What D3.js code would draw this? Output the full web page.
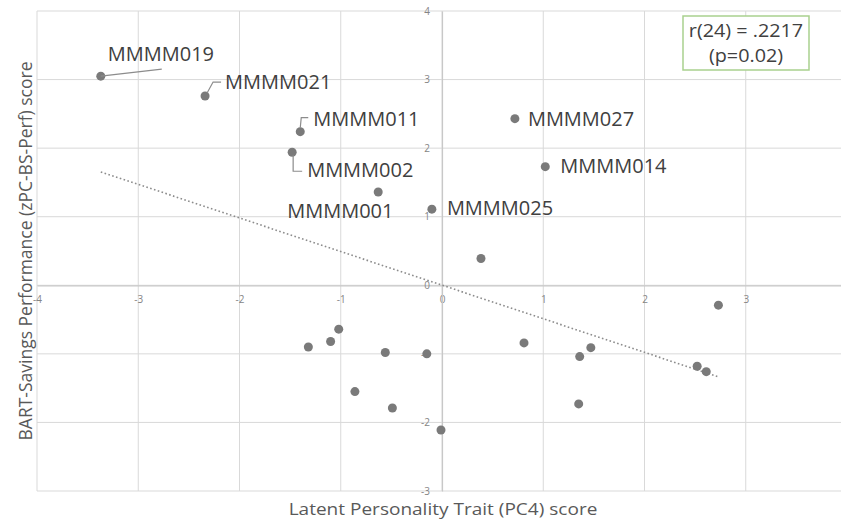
<!DOCTYPE html>
<html>
<head>
<meta charset="utf-8">
<script src="https://cdn.jsdelivr.net/npm/d3@7"></script>
<style>
  body { margin: 0; background: #fff; }
  text { font-family: "Open Sans", sans-serif; }
</style>
</head>
<body>
<svg></svg>
<script>
const width = 841;
const height = 519;

// participant scores (PC4 on x, zPC-BS-Perf on y)
const xs = [-3.37, -2.34, -1.40, -1.48, -0.63, -0.10, 0.72, 1.02, 0.385,
            -1.32, -1.10, -1.02, -0.56, -0.86, -0.49, -0.15, -0.01,
            0.81, 1.36, 1.47, 1.35, 2.52, 2.61, 2.73];
const ys = [3.05, 2.76, 2.24, 1.94, 1.36, 1.11, 2.43, 1.73, 0.39,
            -0.90, -0.82, -0.64, -0.98, -1.55, -1.79, -1.00, -2.11,
            -0.84, -1.04, -0.91, -1.73, -1.18, -1.26, -0.29];
const ids = ['MMMM019', 'MMMM021', 'MMMM011', 'MMMM002', 'MMMM001', 'MMMM025',
             'MMMM027', 'MMMM014'];
const xTicks = [-4, -3, -2, -1, 0, 1, 2, 3];
const yTicks = [4, 3, 2, 1, 0, -1, -2, -3];
const statLines = ['r(24) = .2217', '(p=0.02)'];

const svg = d3.select('svg')
  .attr('width', width)
  .attr('height', height);

const x = d3.scaleLinear().domain([-4, 4]).range([37, 847]);
const y = d3.scaleLinear().domain([-3, 4]).range([491, 11]);

const points = xs.map((v, i) => ({x: v, y: ys[i], id: ids[i]}));

/* grid */
svg.append('g')
  .selectAll('line')
  .data(xTicks.concat([4]))
  .enter()
  .append('line')
    .attr('x1', d => x(d)).attr('x2', d => x(d))
    .attr('y1', y(4)).attr('y2', y(-3))
    .style('stroke', '#d9d9d9')
    .style('stroke-width', 1);

svg.append('g')
  .selectAll('line')
  .data(yTicks)
  .enter()
  .append('line')
    .attr('x1', x(-4)).attr('x2', x(4))
    .attr('y1', d => y(d)).attr('y2', d => y(d))
    .style('stroke', '#d9d9d9')
    .style('stroke-width', 1);

// axes through the origin, plain hyphen for negatives
const fmt = d => String(d);
const xAxis = svg.append('g')
  .attr('transform', `translate(0,${y(0)})`)
  .call(d3.axisBottom(x).tickValues(xTicks).tickFormat(fmt).tickSize(0).tickPadding(12));
const yAxis = svg.append('g')
  .attr('transform', `translate(${x(0)},0)`)
  .call(d3.axisLeft(y).tickValues(yTicks).tickFormat(fmt).tickSize(0).tickPadding(12));

[xAxis, yAxis].forEach(g => {
  g.select('.domain').style('stroke', '#c8c8c8').style('stroke-width', 1.2);
  g.selectAll('text')
    .style('font-family', '"Open Sans", sans-serif')
    .style('font-size', '10px')
    .style('fill', '#858585');
});
xAxis.selectAll('text').attr('dy', '0.55em');

/* trend line: least squares fit */
const mx = d3.mean(xs), my = d3.mean(ys);
const slope = d3.sum(xs, (v, i) => (v - mx) * (ys[i] - my)) /
              d3.sum(xs, v => (v - mx) * (v - mx));
const icpt = my - slope * mx;
const xr = d3.extent(xs);

svg.append('line')
  .attr('x1', x(xr[0])).attr('y1', y(icpt + slope * xr[0]))
  .attr('x2', x(xr[1])).attr('y2', y(icpt + slope * xr[1]))
  .style('stroke', '#8c8c8c')
  .style('stroke-width', 1.6)
  .style('stroke-dasharray', '1.6 2.4');

/* points */
svg.append('g')
  .selectAll('circle')
  .data(points)
  .enter()
  .append('circle')
    .attr('cx', d => x(d.x))
    .attr('cy', d => y(d.y))
    .attr('r', 4.5)
    .style('fill', '#7a7a7a');

/* labels: offset from the point, with optional leader path */
const labelPos = {
  MMMM019: {dx: 7, dy: -15, leader: [[0, 0], [61, -7]]},
  MMMM021: {dx: 20, dy: -7, leader: [[2, -3], [8, -14], [16, -14]]},
  MMMM011: {dx: 13, dy: -6, leader: [[0, -4], [1, -14], [8, -14]]},
  MMMM002: {dx: 15, dy: 25, leader: [[1, 3], [1, 19], [10, 19]]},
  MMMM001: {dx: -91, dy: 26},
  MMMM025: {dx: 15, dy: 6},
  MMMM027: {dx: 13, dy: 7},
  MMMM014: {dx: 15, dy: 6}
};

const labelled = points.filter(d => d.id);

svg.append('g')
  .selectAll('path')
  .data(labelled.filter(d => labelPos[d.id].leader))
  .enter()
  .append('path')
    .attr('d', d => d3.line()(labelPos[d.id].leader.map(p => [x(d.x) + p[0], y(d.y) + p[1]])))
    .style('fill', 'none')
    .style('stroke', '#8c8c8c')
    .style('stroke-width', 1.2);

svg.append('g')
  .selectAll('text')
  .data(labelled)
  .enter()
  .append('text')
    .attr('x', d => x(d.x) + labelPos[d.id].dx)
    .attr('y', d => y(d.y) + labelPos[d.id].dy)
    .text(d => d.id)
    .style('font-size', '20px')
    .style('fill', '#404040');

/* correlation box */
svg.append('rect')
  .attr('x', 683).attr('y', 16)
  .attr('width', 126).attr('height', 54)
  .style('fill', '#fff')
  .style('stroke', '#a9d18e')
  .style('stroke-width', 1.5);

svg.append('g')
  .selectAll('text')
  .data(statLines)
  .enter()
  .append('text')
    .attr('transform', (d, i) => `translate(746,${37 + i * 25}) scale(1.13,1)`)
    .attr('text-anchor', 'middle')
    .text(d => d)
    .style('font-size', '17.5px')
    .style('fill', '#404040');

/* axis titles (source image is slightly stretched sideways) */
svg.append('text')
  .attr('transform', 'translate(443,514.5) scale(1.12,1)')
  .attr('text-anchor', 'middle')
  .text('Latent Personality Trait (PC4) score')
  .style('font-size', '17px')
  .style('fill', '#595959');

svg.append('text')
  .attr('transform', 'translate(32,251) rotate(-90)')
  .attr('text-anchor', 'middle')
  .text('BART-Savings Performance (zPC-BS-Perf) score')
  .style('font-size', '17.5px')
  .style('fill', '#595959');
</script>
</body>
</html>
